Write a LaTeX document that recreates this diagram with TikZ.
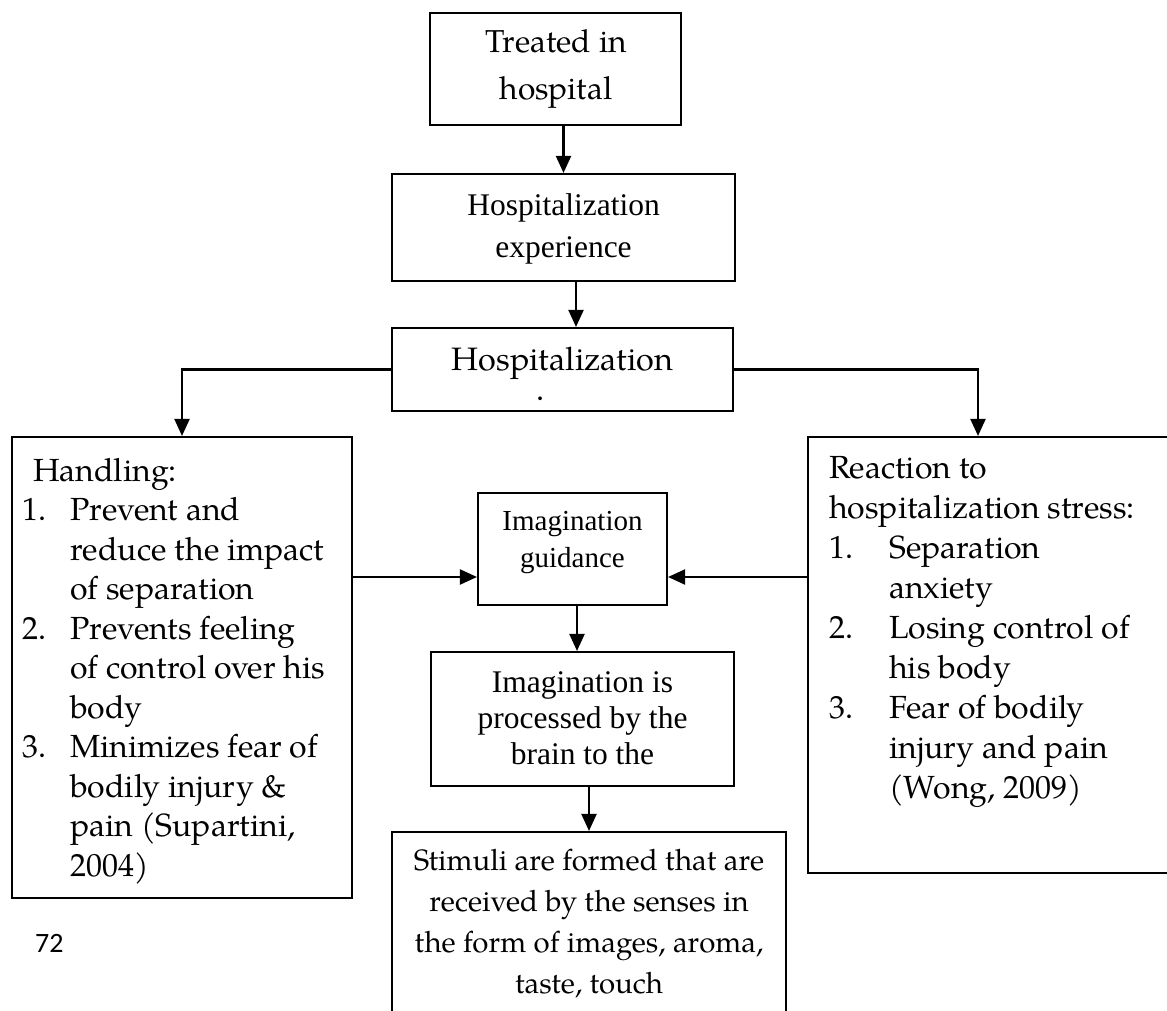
\documentclass[tikz,border=0pt]{standalone}
\usepackage{fontspec}
\usetikzlibrary{arrows.meta}
\newfontfamily\palfont{TeX Gyre Pagella}
\newfontfamily\tmsfont{Liberation Serif}
\newfontfamily\calfont{Carlito}
\tikzset{
  box/.style={draw, line width=2.1pt, inner sep=0pt},
  txt/.style={inner sep=0pt, anchor=base},
  txtl/.style={inner sep=0pt, anchor=base west},
  arr/.style={line width=2.1pt, -{Triangle[length=17pt,width=15pt]}}
}
\begin{document}
\begin{tikzpicture}[x=1pt,y=-1pt]
\useasboundingbox (0,0) rectangle (1167,1011);
\clip (0,0) rectangle (1167,1011);
% boxes
\node[box, minimum width=251pt, minimum height=112pt] (treated) at (555.5,69) {};
\node[box, minimum width=343pt, minimum height=107pt] (exp) at (563.5,227.5) {};
\node[box, minimum width=341pt, minimum height=83pt] (hosp) at (562.5,369.5) {};
\node[box, minimum width=340pt, minimum height=461pt] (handle) at (182,667.5) {};
\node[box, minimum width=367pt, minimum height=436pt] (react) at (991.5,655) {};
\node[box, minimum width=189pt, minimum height=112pt] (guide) at (572.5,549) {};
\node[box, minimum width=303pt, minimum height=134pt] (proc) at (582.5,719) {};
\node[box, minimum width=394pt, minimum height=213pt] (stim) at (589,938.5) {};
% texts
\node[txt, font=\palfont\fontsize{31.7}{47}\selectfont] (treatedt) at (556,53)
  {\begin{tabular}[t]{@{}c@{}}Treated in\\hospital\end{tabular}};
\node[txt, font=\tmsfont\fontsize{31.5}{42}\selectfont] (expt) at (563.5,215)
  {\begin{tabular}[t]{@{}c@{}}Hospitalization\\experience\end{tabular}};
\node[txt, font=\palfont\fontsize{32.4}{40}\selectfont] (hospt) at (562.5,370) {Hospitalization};
\node[txt, font=\palfont\fontsize{32.4}{40}\selectfont] (hospdot) at (541,400) {.};
\node[txtl, font=\palfont\fontsize{32}{39.5}\selectfont] (handlet) at (22,481)
  {\begin{tabular}[t]{@{}p{48pt}@{}l@{}}
   \multicolumn{2}{@{\hspace{11pt}}l@{}}{Handling:}\\
   1. & Prevent and\\
      & reduce the impact\\
      & of separation\\
   2. & Prevents feeling\\
      & of control over his\\
      & body\\
   3. & Minimizes fear of\\
      & bodily injury \&\\
      & pain (Supartini,\\
      & 2004)
   \end{tabular}};
\node[txtl, font=\palfont\fontsize{32}{40}\selectfont] (reactt) at (829,478)
  {\begin{tabular}[t]{@{}p{60pt}@{}l@{}}
   \multicolumn{2}{@{}l@{}}{Reaction to}\\
   \multicolumn{2}{@{}l@{}}{hospitalization stress:}\\
   1. & Separation\\
      & anxiety\\
   2. & Losing control of\\
      & his body\\
   3. & Fear of bodily\\
      & injury and pain\\
      & (Wong, 2009)
   \end{tabular}};
\node[txt, font=\tmsfont\fontsize{29}{37}\selectfont] (guidet) at (572.5,530)
  {\begin{tabular}[t]{@{}c@{}}Imagination\\guidance\end{tabular}};
\node[txt, font=\tmsfont\fontsize{31.5}{36}\selectfont] (proct) at (582.5,692)
  {\begin{tabular}[t]{@{}c@{}}Imagination is\\processed by the\\brain to the\end{tabular}};
\node[txt, font=\palfont\fontsize{29.4}{41}\selectfont] (stimt) at (589,870)
  {\begin{tabular}[t]{@{}c@{}}Stimuli are formed that are\\received by the senses in\\the form of images, aroma,\\taste, touch\end{tabular}};
\node[txtl, font=\calfont\fontsize{28}{32}\selectfont] (pagenum) at (35,952) {72};
% connectors
\coordinate (gl) at ([yshift=-28pt]guide.west);
\coordinate (gr) at ([yshift=-28pt]guide.east);
\draw[arr] (treated.south -| exp.north) -- (exp.north);
\draw[arr] ([xshift=12.5pt]exp.south) -- ([xshift=12.5pt]exp.south |- hosp.north);
\draw[arr] (hosp.west) -| (handle.north);
\draw[arr] (hosp.east) -| ([xshift=-13.5pt]react.north);
\draw[arr] (handle.east |- gl) -- (gl);
\draw[arr] (react.west |- gr) -- (gr);
\draw[arr] ([xshift=4.5pt]guide.south) -- ([xshift=4.5pt]guide.south |- proc.north);
\draw[arr] (proc.south -| stim.north) -- (stim.north);
\end{tikzpicture}
\end{document}
